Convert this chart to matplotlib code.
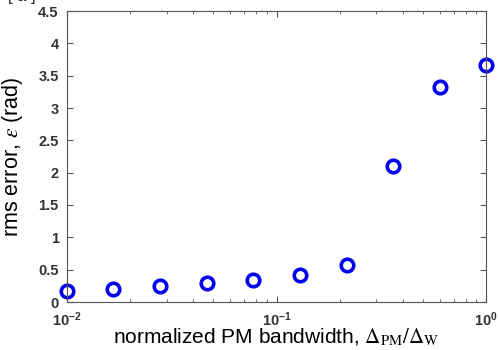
import matplotlib
matplotlib.use("Agg")
import matplotlib.pyplot as plt
from matplotlib.ticker import LogLocator, FixedLocator, FixedFormatter

plt.rcParams['font.family'] = ['Liberation Sans', 'DejaVu Sans']
plt.rcParams['mathtext.fontset'] = 'stix'

# data
bandwidth = [0.01, 0.0166, 0.0278, 0.0464, 0.0775, 0.129, 0.216, 0.36, 0.60, 1.0]
rms_error = [0.17, 0.20, 0.25, 0.29, 0.34, 0.42, 0.57, 2.10, 3.32, 3.66]
yticks = [0, 0.5, 1, 1.5, 2, 2.5, 3, 3.5, 4, 4.5]
ylabels = ['0', '0.5', '1', '1.5', '2', '2.5', '3', '3.5', '4', '4.5']

fig = plt.figure(figsize=(4.99, 3.5), dpi=100)
ax = fig.add_axes([67/499, 48/350, 419/499, 291/350])

ax.plot(bandwidth, rms_error, 'o', mfc='none', mec='#0000ee', ms=9, mew=2.6, clip_on=False)

ax.set_xscale('log')
ax.set_xlim(0.01, 1)
ax.set_ylim(0, 4.5)
ax.yaxis.set_major_locator(FixedLocator(yticks))
ax.yaxis.set_major_formatter(FixedFormatter(ylabels))
ax.xaxis.set_major_locator(LogLocator(base=10))
ax.xaxis.set_minor_locator(LogLocator(base=10, subs=range(2, 10)))

for s in ax.spines.values():
    s.set_color('#555555')
    s.set_linewidth(0.8)
ax.tick_params(which='both', direction='in', top=True, right=True, colors='#555555',
               labelcolor='#333333', labelsize=10.5)
ax.tick_params(which='major', length=4)
ax.tick_params(which='minor', length=2)
ax.tick_params(axis='x', pad=6)
ax.tick_params(axis='y', pad=6)
for lab in ax.get_xticklabels() + ax.get_yticklabels():
    lab.set_fontweight('bold')

ax.set_ylabel(r'rms error, $\varepsilon$ (rad)', fontsize=15.5, va='center')
ax.yaxis.set_label_coords(-0.131, 0.5)
ax.set_xlabel(r'normalized PM bandwidth, $\Delta_{\rm PM}/\Delta_{\rm W}$', fontsize=15, va='baseline')
ax.xaxis.set_label_coords(0.5, -0.143)

fig.text(8/499, 1.0 + 4/350, '[ a ]', fontsize=12, va='center', ha='left', color='#222222')

fig.savefig('out.png', dpi=100)
